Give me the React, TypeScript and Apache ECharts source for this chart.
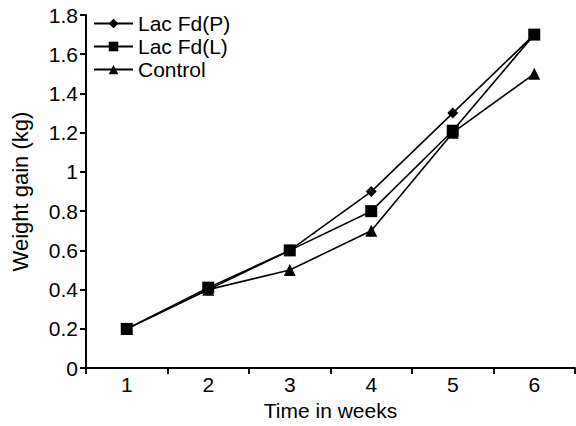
import React, { useEffect, useRef } from "react";
import * as echarts from "echarts";

const weeks = ["1", "2", "3", "4", "5", "6"];
const lacP = [0.2, 0.4, 0.6, 0.9, 1.3, 1.7];
const lacL = [0.2, 0.41, 0.6, 0.8, 1.21, 1.7];
const control = [0.2, 0.4, 0.5, 0.7, 1.2, 1.5];
const seriesNames = ["Lac Fd(P)", "Lac Fd(L)", "Control"];

const FONT = "Arial, 'Liberation Sans', sans-serif";
const FS = 21;

export default function App() {
  const ref = useRef<HTMLDivElement>(null);
  useEffect(() => {
    if (!ref.current) return;
    const chart = echarts.init(ref.current, null, { renderer: "svg" });
    const lineStyle = { color: "#000", width: 1.6 };
    const axisLine = { show: true, lineStyle: { color: "#000", width: 2 } };
    const axisTick = { show: true, length: 6, lineStyle: { color: "#000", width: 2 } };
    chart.setOption({
      animation: false,
      backgroundColor: "#fff",
      textStyle: { fontFamily: FONT, color: "#000" },
      grid: { left: 86, right: 1, top: 15, bottom: 52, containLabel: false },
      legend: {
        orient: "vertical",
        left: 93,
        top: 13,
        padding: 0,
        itemWidth: 39,
        itemHeight: 12,
        itemGap: 2,
        textStyle: { fontSize: FS, color: "#000", fontFamily: FONT },
        data: seriesNames,
      },
      xAxis: {
        type: "category",
        data: weeks,
        boundaryGap: true,
        name: "Time in weeks",
        nameLocation: "middle",
        nameGap: 29,
        nameTextStyle: { fontSize: FS, color: "#000", fontFamily: FONT },
        axisLine,
        axisTick,
        axisLabel: { fontSize: FS, color: "#000", margin: 6, fontFamily: FONT },
        splitLine: { show: false },
      },
      yAxis: {
        type: "value",
        min: 0,
        max: 1.8,
        interval: 0.2,
        name: "Weight gain (kg)",
        nameLocation: "middle",
        nameGap: 55,
        nameRotate: 90,
        nameTextStyle: { fontSize: 22, color: "#000", fontFamily: FONT },
        axisLine,
        axisTick,
        axisLabel: { fontSize: FS, color: "#000", margin: 8, fontFamily: FONT },
        splitLine: { show: false },
      },
      series: [
        {
          name: seriesNames[0],
          type: "line",
          data: lacP,
          symbol: "diamond",
          symbolSize: 11,
          itemStyle: { color: "#000" },
          lineStyle,
        },
        {
          name: seriesNames[1],
          type: "line",
          data: lacL,
          symbol: "rect",
          symbolSize: 12,
          itemStyle: { color: "#000" },
          lineStyle,
        },
        {
          name: seriesNames[2],
          type: "line",
          data: control,
          symbol: "triangle",
          symbolSize: 12,
          itemStyle: { color: "#000" },
          lineStyle,
        },
      ],
    });
    return () => chart.dispose();
  }, []);
  return <div ref={ref} style={{ width: 576, height: 426, position: "absolute", left: 0, top: 0 }} />;
}
